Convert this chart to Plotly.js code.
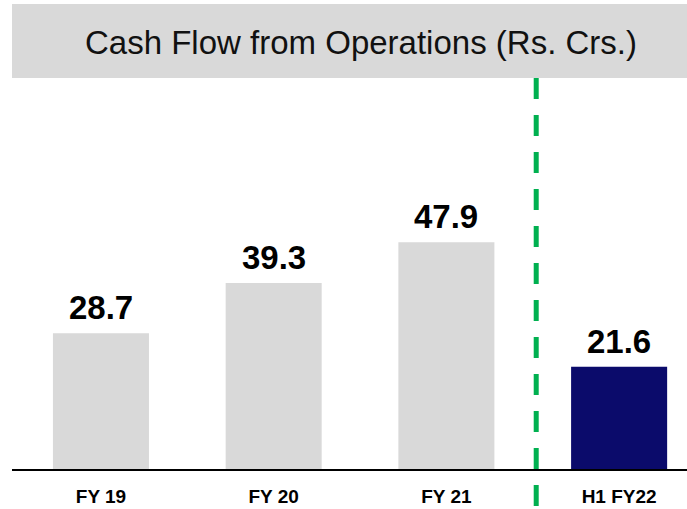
<!DOCTYPE html>
<html>
<head>
<meta charset="utf-8">
<script src="https://cdn.plot.ly/plotly-3.0.1.min.js"></script>
<style>html,body{margin:0;padding:0;background:#fff;}#chart{width:687px;height:509px;}</style>
</head>
<body>
<div id="chart"></div>
<script>
const categories = ["FY 19", "FY 20", "FY 21", "H1 FY22"];
const values = [28.7, 39.3, 47.9, 21.6];
const barColors = ["#d9d9d9", "#d9d9d9", "#d9d9d9", "#0b0b6b"];
const valueLabels = ["28.7", "39.3", "47.9", "21.6"];
const chartTitle = "Cash Flow from Operations (Rs. Crs.)";

const FONT = "'Liberation Sans', Arial, sans-serif";

const trace = {
  type: "bar",
  x: categories.map((c, i) => i),
  y: values,
  marker: { color: barColors, line: { width: 0 } },
  hoverinfo: "skip"
};

const annotations = values.map((v, i) => ({
  x: i, y: v, xref: "x", yref: "y",
  text: "<b>" + valueLabels[i] + "</b>",
  showarrow: false, yanchor: "bottom", yshift: 5,
  font: { family: FONT, size: 33, color: "#000" }
}));
annotations.push({
  xref: "paper", yref: "paper", x: 0.517, y: 1.096,
  xanchor: "center", yanchor: "middle",
  text: chartTitle, showarrow: false,
  font: { family: FONT, size: 33, color: "#111" }
});

const layout = {
  width: 687, height: 509,
  margin: { l: 12, r: 0, t: 80, b: 40, pad: 0 },
  paper_bgcolor: "#fff", plot_bgcolor: "#fff",
  showlegend: false,
  bargap: 0.444,
  xaxis: {
    range: [-0.515, 3.393],
    tickmode: "array",
    tickvals: categories.map((c, i) => i),
    ticktext: categories.map(c => "<b>" + c + "</b>"),
    tickfont: { family: FONT, size: 19, color: "#000" },
    ticks: "", showgrid: false, zeroline: false,
    showline: true, linecolor: "#000", linewidth: 1.5,
    ticklabelstandoff: 10,
    fixedrange: true
  },
  yaxis: {
    range: [0, 82.2],
    visible: false, showgrid: false, zeroline: false,
    fixedrange: true
  },
  shapes: [
    { type: "rect", xref: "paper", yref: "paper", x0: 0, x1: 1, y0: 1.0051, y1: 1.1954,
      fillcolor: "#d9d9d9", line: { width: 0 }, layer: "below" },
    { type: "line", xref: "x", yref: "paper", x0: 2.52, x1: 2.52, y0: 1.0051, y1: -0.11,
      line: { color: "#00b050", width: 5, dash: "21px,16px" } }
  ],
  annotations: annotations
};

Plotly.newPlot("chart", [trace], layout, { displayModeBar: false, staticPlot: true });
</script>
</body>
</html>
